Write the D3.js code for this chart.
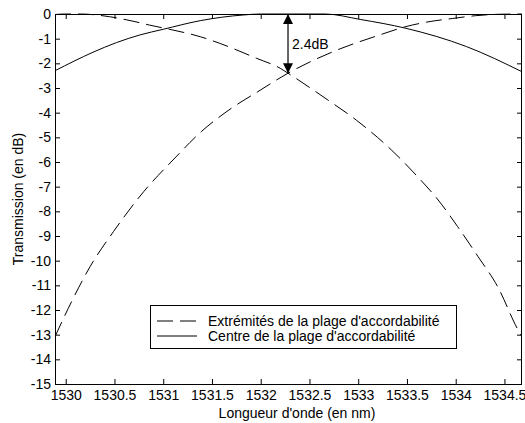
<!DOCTYPE html>
<html>
<head>
<meta charset="utf-8">
<script src="https://cdn.jsdelivr.net/npm/d3@7"></script>
<style>
  html, body { margin: 0; padding: 0; background: #fff; }
  svg { display: block; }
  text { font-family: "Liberation Sans", Arial, sans-serif; fill: #000; }
</style>
</head>
<body>
<svg id="chart" width="525" height="423"></svg>
<script>
// ---- data ----
const xTicks = [1530, 1530.5, 1531, 1531.5, 1532, 1532.5, 1533, 1533.5, 1534, 1534.5];
const xTickLabels = ["1530", "1530.5", "1531", "1531.5", "1532", "1532.5", "1533", "1533.5", "1534", "1534.5"];
const yTicks = [0, -1, -2, -3, -4, -5, -6, -7, -8, -9, -10, -11, -12, -13, -14, -15];
const yTickLabels = ["0", "-1", "-2", "-3", "-4", "-5", "-6", "-7", "-8", "-9", "-10", "-11", "-12", "-13", "-14", "-15"];

// Dashed curve 1 (low end of tuning range)
const extLowWl = [1529.89, 1530.0, 1530.15, 1530.45, 1530.7, 1530.86, 1531.1, 1531.38, 1531.58, 1531.96, 1532.2, 1532.28, 1532.69, 1532.98, 1533.34, 1533.61, 1533.82, 1534.02, 1534.23, 1534.43, 1534.64, 1534.68];
const extLowDb = [-0.02, 0, 0, -0.11, -0.3, -0.45, -0.65, -0.92, -1.19, -1.8, -2.2, -2.4, -3.49, -4.30, -5.51, -6.6, -7.54, -8.62, -9.84, -11.05, -12.81, -13.08];
// Dashed curve 2 (high end of tuning range)
const extHighWl = [1529.89, 1530.06, 1530.25, 1530.49, 1530.8, 1531.1, 1531.39, 1531.7, 1531.97, 1532.28, 1532.74, 1533.22, 1533.49, 1533.7, 1533.97, 1534.2, 1534.45, 1534.68];
const extHighDb = [-13.08, -11.66, -10.24, -8.82, -7.2, -5.92, -4.77, -3.82, -3.15, -2.4, -1.53, -0.85, -0.51, -0.33, -0.18, -0.07, -0.01, 0];
// Solid curve (centre of tuning range)
const centreWl = [1529.89, 1530.28, 1530.52, 1530.76, 1531.0, 1531.38, 1531.82, 1532.0, 1532.28, 1532.66, 1533.02, 1533.49, 1534.11, 1534.68];
const centreDb = [-2.3, -1.55, -1.16, -0.85, -0.62, -0.27, -0.04, 0, 0, 0, -0.22, -0.58, -1.32, -2.34];

// Annotation arrow
const arrowWl = [1532.28, 1532.28];
const arrowDb = [0, -2.4];
const arrowLabel = "2.4dB";

const legendLabels = ["Extrémités de la plage d'accordabilité", "Centre de la plage d'accordabilité"];
const xTitle = "Longueur d'onde (en nm)";
const yTitle = "Transmission (en dB)";

// ---- drawing ----
const FS = "14px";
const svg = d3.select("#chart");
const L = 55, R = 522, T = 14, B = 384;
const x = d3.scaleLinear().domain([1529.89, 1534.68]).range([L, R]);
const y = d3.scaleLinear().domain([-15, 0]).range([B, T]);

const defs = svg.append("defs");
defs.append("clipPath").attr("id", "clip")
  .append("rect").attr("x", L).attr("y", T - 1).attr("width", R - L).attr("height", B - T + 2);

const line = d3.line().x(d => x(d[0])).y(d => y(d[1])).curve(d3.curveMonotoneX);
const plot = svg.append("g").attr("clip-path", "url(#clip)");

const series = [
  { wl: extLowWl, db: extLowDb, dash: "16,7" },
  { wl: extHighWl, db: extHighDb, dash: "16,7" },
  { wl: centreWl, db: centreDb, dash: null }
];
series.forEach(s => {
  plot.append("path")
    .datum(s.wl.map((w, i) => [w, s.db[i]]))
    .attr("d", line)
    .attr("fill", "none")
    .attr("stroke", "#000")
    .attr("stroke-width", 1)
    .attr("stroke-dasharray", s.dash);
});

// axes (MATLAB style: inward ticks on all sides)
const tickLen = 5;
const fmtX = (d, i) => xTickLabels[i];
const fmtY = (d, i) => yTickLabels[i];

const axBottom = d3.axisBottom(x).tickValues(xTicks).tickFormat(fmtX).tickSizeInner(-tickLen).tickSizeOuter(0).tickPadding(6);
const axTop = d3.axisTop(x).tickValues(xTicks).tickFormat("").tickSizeInner(-tickLen).tickSizeOuter(0);
const axLeft = d3.axisLeft(y).tickValues(yTicks).tickFormat(fmtY).tickSizeInner(-tickLen).tickSizeOuter(0).tickPadding(4);
const axRight = d3.axisRight(y).tickValues(yTicks).tickFormat("").tickSizeInner(-tickLen).tickSizeOuter(0);

function style(g) {
  g.select(".domain").remove();
  g.selectAll("line").attr("stroke", "#000");
  g.selectAll("text").style("font-family", '"Liberation Sans", Arial, sans-serif').style("font-size", FS).attr("fill", "#000");
}
svg.append("g").attr("transform", `translate(0,${B})`).call(axBottom).call(style);
svg.append("g").attr("transform", `translate(0,${T})`).call(axTop).call(style);
svg.append("g").attr("transform", `translate(${L},0)`).call(axLeft).call(style);
svg.append("g").attr("transform", `translate(${R},0)`).call(axRight).call(style);

svg.append("rect").attr("x", L + 0.5).attr("y", T + 0.5).attr("width", R - L - 1).attr("height", B - T)
  .attr("fill", "none").attr("stroke", "#000").attr("stroke-width", 1);

// arrow annotation
defs.append("marker").attr("id", "ah").attr("viewBox", "0 0 10 10").attr("refX", 10).attr("refY", 5)
  .attr("markerWidth", 10).attr("markerHeight", 10).attr("markerUnits", "userSpaceOnUse").attr("orient", "auto-start-reverse")
  .append("path").attr("d", "M0,0 L10,5 L0,10 Z").attr("fill", "#000");
svg.append("line")
  .attr("x1", x(arrowWl[0])).attr("y1", y(arrowDb[0]))
  .attr("x2", x(arrowWl[1])).attr("y2", y(arrowDb[1]))
  .attr("stroke", "#000").attr("stroke-width", 1.2)
  .attr("marker-start", "url(#ah)").attr("marker-end", "url(#ah)");
svg.append("text").attr("x", x(arrowWl[0]) + 4).attr("y", (y(arrowDb[0]) + y(arrowDb[1])) / 2 + 5)
  .style("font-size", FS).text(arrowLabel);

// legend
const lg = svg.append("g");
lg.append("rect").attr("x", 150.5).attr("y", 305.5).attr("width", 306).attr("height", 43)
  .attr("fill", "#fff").attr("stroke", "#000");
[0, 1].forEach(i => {
  const ly = 321 + i * 15;
  lg.append("line").attr("x1", 157).attr("x2", 197).attr("y1", ly).attr("y2", ly)
    .attr("stroke", "#000").attr("stroke-dasharray", i === 0 ? "16,7" : null);
  lg.append("text").attr("x", 208).attr("y", ly + 5).style("font-size", FS).text(legendLabels[i]);
});

// titles
svg.append("text").attr("x", 297).attr("y", 418).attr("text-anchor", "middle")
  .style("font-size", FS).text(xTitle);
svg.append("text").attr("transform", `translate(23,${(T + B) / 2}) rotate(-90)`).attr("text-anchor", "middle")
  .style("font-size", FS).text(yTitle);
</script>
</body>
</html>
